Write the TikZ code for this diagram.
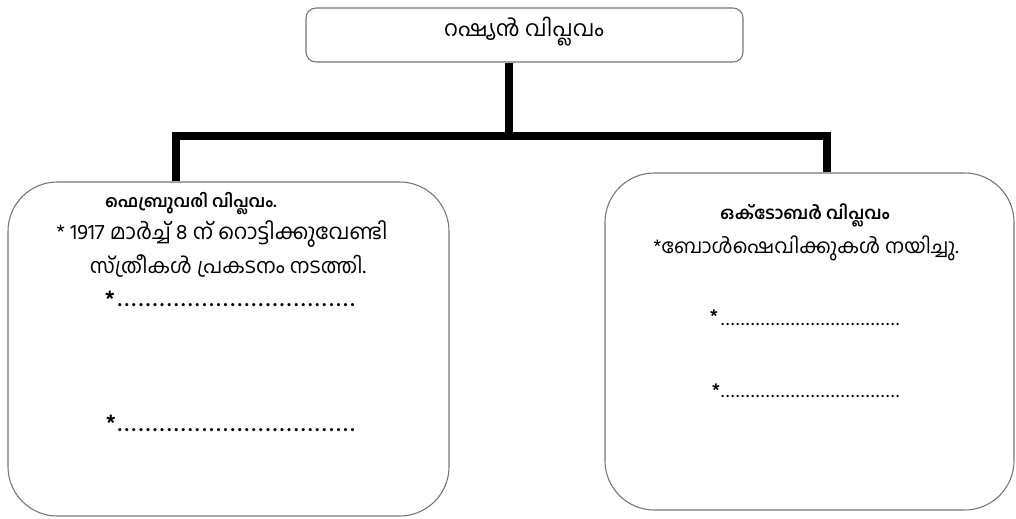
\documentclass[tikz,border=0pt]{standalone}
\usepackage{fontspec}
\newfontfamily\ml[Script=Malayalam]{Hind Kochi}
\newcommand{\mydotrow}[1]{\hbox to #1{\xleaders\hbox to 5.2pt{\hss.\hss}\hfill}}
\newcommand{\mydotrowsmall}[1]{\hbox to #1{\xleaders\hbox to 3.7pt{\hss.\hss}\hfill}}
\begin{document}
\begin{tikzpicture}[x=0.75pt,y=-0.75pt,
  box/.style={draw=black!55, line width=0.8pt, inner sep=0pt},
  conn/.style={line width=6pt, line cap=butt, line join=miter},
  txt/.style={font=\ml\fontsize{15.5}{18}\selectfont, inner sep=0pt, anchor=center},
  head/.style={txt, font=\ml\bfseries\fontsize{12.5}{15}\selectfont},
  star/.style={font=\ml\bfseries\fontsize{16}{17}\selectfont, inner sep=0pt},
  smallstar/.style={font=\ml\bfseries\fontsize{13}{15}\selectfont, inner sep=0pt},
  dots/.style={font=\ml\bfseries\fontsize{15}{16}\selectfont, inner sep=0pt, anchor=west},
  smalldots/.style={font=\ml\bfseries\fontsize{11}{13}\selectfont, inner sep=0pt, anchor=west}]
\useasboundingbox (0,0) rectangle (1016,518);
% boxes
\node[box, rounded corners=7.5pt, minimum width=327.75pt, minimum height=40.5pt] (top) at (524.5,35) {};
\node[box, rounded corners=37pt, minimum width=330.75pt, minimum height=250.5pt] (feb) at (228.5,349) {};
\node[box, rounded corners=37pt, minimum width=306.75pt, minimum height=252.75pt] (oct) at (809.5,341.5) {};
% connector
\coordinate (stem) at (509,0);
\coordinate (bar) at (0,135.5);
\coordinate (fl) at (175.5,0);
\coordinate (ol) at (826.5,0);
\draw[conn] (top.south -| stem) -- (bar -| stem);
\draw[conn] (feb.north -| fl) -- (bar -| fl) -- (bar -| ol) -- (oct.north -| ol);
% texts
\node[txt, font=\ml\fontsize{16.5}{19}\selectfont] (ttop) at (524,32) {റഷ്യൻ വിപ്ലവം};
\node[head, font=\ml\bfseries\fontsize{12.5}{15}\selectfont] (fh) at (191,204) {ഫെബ്രുവരി വിപ്ലവം.};
\node[txt, font=\ml\fontsize{16}{19}\selectfont] (f1) at (222,234) {* 1917 മാർച്ച് 8 ന് റൊട്ടിക്കുവേണ്ടി};
\node[txt] (f2) at (228,266) {സ്ത്രീകൾ  പ്രകടനം നടത്തി.};
\node[star] (fs1) at (110,298) {*};
\node[dots] (fd1) at (116,305) {\mydotrow{180pt}};
\node[star] (fs2) at (111,422) {*};
\node[dots] (fd2) at (116,430) {\mydotrow{180pt}};
\node[head, font=\ml\bfseries\fontsize{13}{15}\selectfont] (oh) at (805,215) {ഒക്ടോബർ വിപ്ലവം};
\node[txt, font=\ml\fontsize{15}{18}\selectfont] (o1) at (806,248) {*ബോൾഷെവിക്കുകൾ നയിച്ചു.};
\node[smallstar] (os1) at (714,316) {*};
\node[smalldots] (od1) at (720,324) {\mydotrowsmall{135pt}};
\node[smallstar] (os2) at (716,390) {*};
\node[smalldots] (od2) at (720,396) {\mydotrowsmall{135pt}};
\end{tikzpicture}
\end{document}
